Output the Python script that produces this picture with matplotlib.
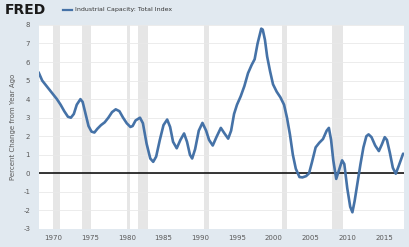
import matplotlib.pyplot as plt
import numpy as np

# values (year, percent change from year ago)
years = [1968.0, 1968.5, 1969.0, 1969.5, 1970.0, 1970.5, 1971.0, 1971.5, 1972.0, 1972.4,
         1972.8, 1973.2, 1973.7, 1974.0, 1974.4, 1974.8, 1975.2, 1975.6, 1976.0, 1976.5,
         1977.0, 1977.5, 1978.0, 1978.5, 1979.0, 1979.5, 1980.0, 1980.5, 1980.8, 1981.2,
         1981.8, 1982.2, 1982.7, 1983.2, 1983.6, 1984.0, 1984.5, 1985.0, 1985.5, 1985.9,
         1986.3, 1986.8, 1987.3, 1987.8, 1988.2, 1988.6, 1988.9, 1989.3, 1989.8, 1990.3,
         1990.8, 1991.2, 1991.7, 1992.2, 1992.8, 1993.3, 1993.8, 1994.2, 1994.6, 1995.0,
         1995.5, 1996.0, 1996.5, 1997.0, 1997.4, 1997.8, 1998.3, 1998.5, 1998.8, 1999.1,
         1999.5, 1999.9, 2000.4, 2000.9, 2001.4, 2001.8, 2002.2, 2002.6, 2003.0, 2003.5,
         2003.9, 2004.4, 2004.8, 2005.2, 2005.7, 2006.2, 2006.7, 2007.2, 2007.5, 2007.8,
         2008.1, 2008.5, 2008.9, 2009.3, 2009.6, 2010.0, 2010.4, 2010.7, 2011.0, 2011.4,
         2011.8, 2012.2, 2012.6, 2012.9, 2013.3, 2013.8, 2014.3, 2014.7, 2015.1, 2015.4,
         2015.8, 2016.2, 2016.6, 2017.0, 2017.6]
pct_change = [5.45, 5.0, 4.75, 4.5, 4.25, 4.0, 3.7, 3.35, 3.05, 3.0,
              3.2, 3.7, 4.0, 3.85, 3.2, 2.55, 2.25, 2.2, 2.4, 2.6,
              2.75, 3.0, 3.3, 3.45, 3.35, 3.0, 2.7, 2.5, 2.55, 2.85,
              3.0, 2.7, 1.6, 0.8, 0.62, 0.9, 1.8, 2.6, 2.9, 2.5,
              1.7, 1.35, 1.8, 2.15, 1.7, 1.0, 0.8, 1.3, 2.3, 2.72,
              2.3, 1.8, 1.5, 1.95, 2.45, 2.15, 1.87, 2.3, 3.2, 3.7,
              4.15, 4.7, 5.4, 5.85, 6.15, 7.0, 7.8, 7.75, 7.2, 6.3,
              5.5, 4.8, 4.4, 4.1, 3.7, 3.0, 2.1, 1.0, 0.25, -0.2,
              -0.22, -0.15, 0.0, 0.6, 1.4, 1.65, 1.85, 2.3, 2.45, 1.8,
              0.7, -0.3, 0.2, 0.7, 0.5, -0.8, -1.8, -2.1, -1.5, -0.5,
              0.5, 1.4, 2.0, 2.1, 1.95, 1.5, 1.2, 1.55, 1.95, 1.8,
              1.1, 0.3, -0.02, 0.4, 1.06]

# NBER recessions
rec_start = [1969.92, 1973.88, 1980.0, 1981.5, 1990.5, 2001.17, 2007.92]
rec_end = [1970.88, 1975.17, 1980.5, 1982.83, 1991.17, 2001.83, 2009.42]

xticks = [1970, 1975, 1980, 1985, 1990, 1995, 2000, 2005, 2010, 2015]
yticks = list(range(-3, 9))

bg = '#e1e9f0'
line_color = '#4572a7'
text_color = '#595959'

fig = plt.figure(figsize=(4.10, 2.47), dpi=100, facecolor=bg)
ax = fig.add_axes([0.094, 0.073, 0.891, 0.826])
ax.set_facecolor('white')

for s, e in zip(rec_start, rec_end):
    ax.axvspan(s, e, color='#e6e6e6', lw=0, zorder=1)

for y in yticks:
    ax.axhline(y, color='#e9e9e9', lw=0.6, zorder=1.5)
ax.axhline(0, color='black', lw=1.1, zorder=2)

ax.plot(years, pct_change, color=line_color, lw=1.9, solid_joinstyle='round',
        solid_capstyle='round', zorder=3)

ax.set_xlim(1968.0, 2017.7)
ax.set_ylim(-3, 8)
ax.set_xticks(xticks)
ax.set_yticks(yticks)
ax.set_yticklabels([str(v) for v in yticks])
ax.tick_params(length=0, labelsize=5, colors=text_color, pad=6)
ax.tick_params(axis='x', pad=4)
for sp in ax.spines.values():
    sp.set_visible(False)

ax.set_ylabel('Percent Change from Year Ago', fontsize=5, color=text_color, labelpad=5)

# header
fig.text(0.012, 0.958, 'FRED', fontsize=10, fontweight='heavy', color='#1a1a1a',
         va='center', ha='left')
fig.lines.append(plt.Line2D([0.154, 0.176], [0.961, 0.961], transform=fig.transFigure,
                            color=line_color, lw=1.6))
fig.text(0.183, 0.961, 'Industrial Capacity: Total Index', fontsize=4.5, color='#333333',
         va='center', ha='left')

fig.savefig('out.png', dpi=100, facecolor=bg)
